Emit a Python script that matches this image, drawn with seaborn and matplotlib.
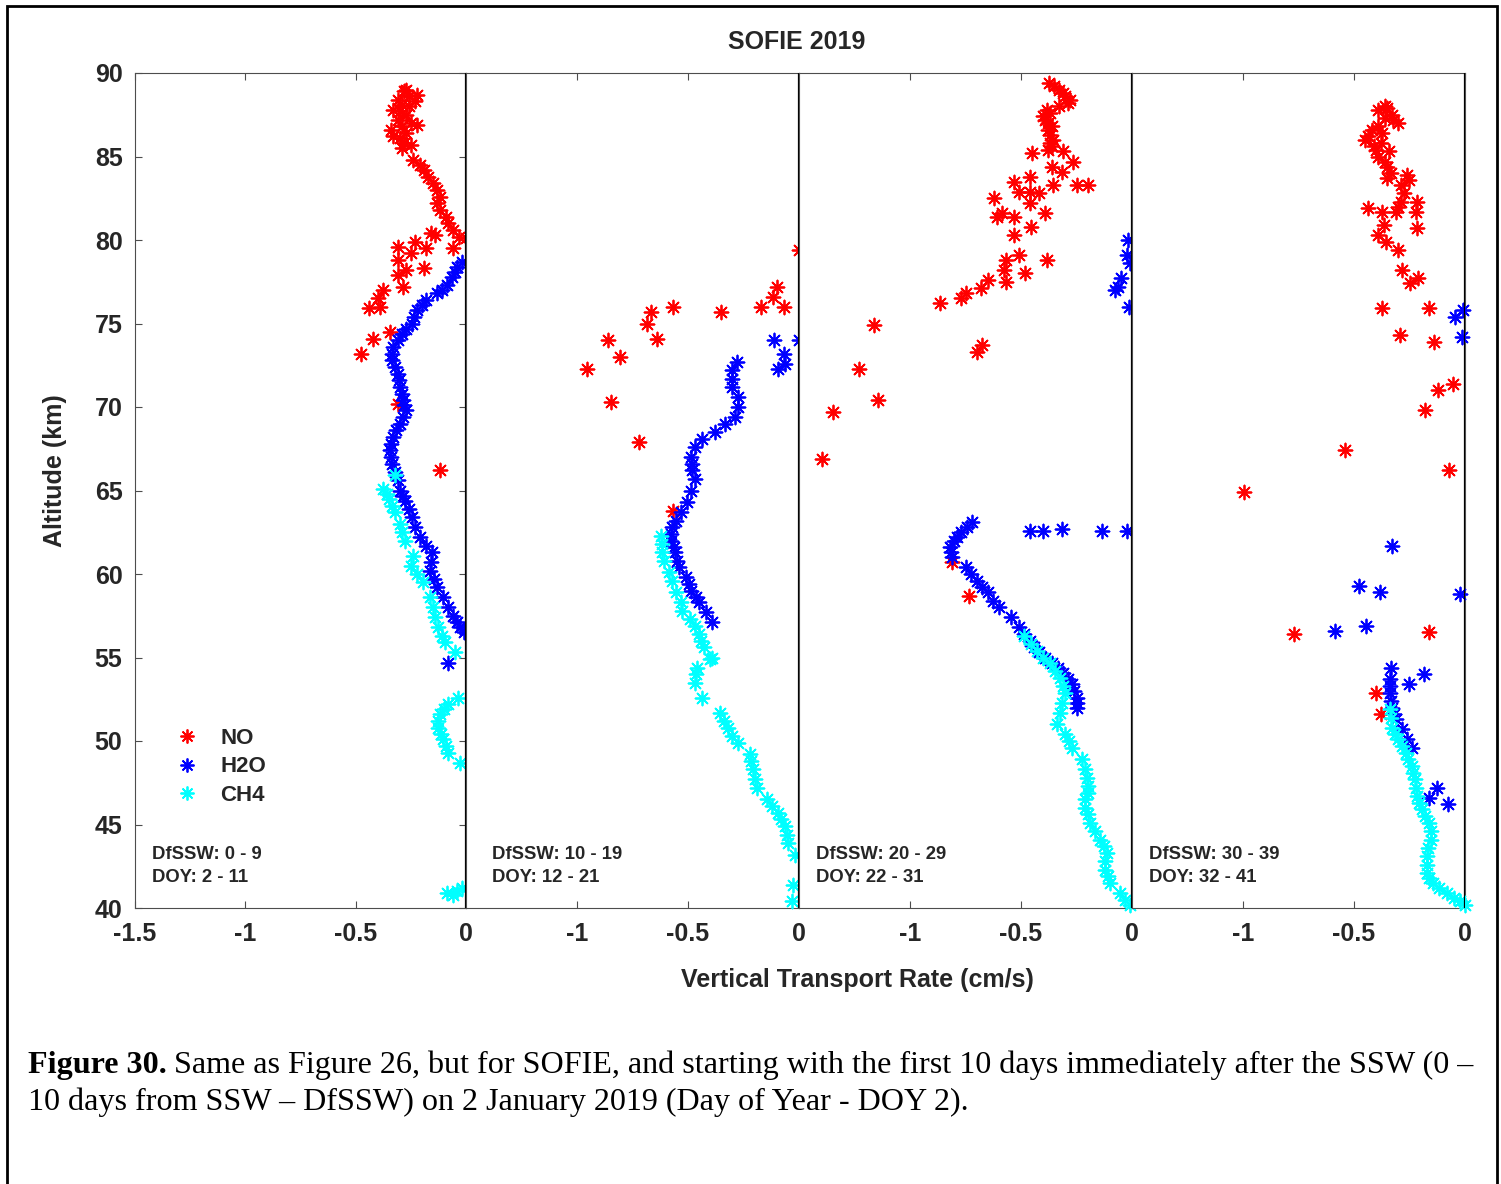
import numpy as np
import pandas as pd
import matplotlib
matplotlib.use("Agg")
import matplotlib.pyplot as plt
import seaborn as sns
from matplotlib.lines import Line2D
from matplotlib.patches import Rectangle

sns.set_style("white")
plt.rcParams['font.family'] = ['Liberation Sans', 'DejaVu Sans']

# ---------------- data ----------------
species = ["NO", "H2O", "CH4"]
species_colors = {"NO": "#ff0000", "H2O": "#0000ff", "CH4": "#00ffff"}
dfssw_labels = ["DfSSW: 0 - 9", "DfSSW: 10 - 19", "DfSSW: 20 - 29", "DfSSW: 30 - 39"]
doy_labels = ["DOY: 2 - 11", "DOY: 12 - 21", "DOY: 22 - 31", "DOY: 32 - 41"]
x_ticks_first = [-1.5, -1, -0.5, 0]
x_ticks_other = [-1, -0.5, 0]
y_ticks = [40, 45, 50, 55, 60, 65, 70, 75, 80, 85, 90]

# Panel 1 (DfSSW 0-9)
p1_no_alt = [89.0, 88.9, 88.7, 88.6, 88.4, 88.3, 88.1, 88.0, 87.8, 87.7, 87.5, 87.2, 87.0, 86.9, 86.8,
             86.6, 86.4, 86.2, 86.1, 85.8, 85.7, 85.5,
             84.8, 84.5, 84.2, 83.8, 83.4, 83.0, 82.6, 82.2, 81.8, 81.4, 81.0, 80.6, 80.2, 80.1, 79.5,
             80.4, 80.3, 79.6, 79.9, 79.2, 79.5, 78.8, 78.2, 78.3, 77.9, 77.2, 77.0, 76.5, 75.9, 76.0,
             74.5, 74.1, 73.2, 70.2, 66.2]
p1_no_rate = [-0.27, -0.28, -0.22, -0.26, -0.31, -0.23, -0.29, -0.26, -0.33, -0.30, -0.27, -0.31, -0.25, -0.22, -0.29,
              -0.34, -0.27, -0.33, -0.30, -0.28, -0.25, -0.29,
              -0.24, -0.21, -0.19, -0.17, -0.15, -0.13, -0.12, -0.13, -0.12, -0.09, -0.08, -0.06, -0.03, 0.0, -0.06,
              -0.16, -0.14, -0.31, -0.23, -0.25, -0.18, -0.31, -0.27, -0.19, -0.31, -0.285, -0.376, -0.40, -0.44, -0.39,
              -0.344, -0.42, -0.476, -0.31, -0.118]
p1_h2o_alt = [78.7, 78.4, 78.1, 77.8, 77.3, 77.0, 76.8, 76.4, 76.1, 75.8, 75.4, 75.0, 74.7, 74.4, 74.0, 73.6,
              73.2, 72.8, 72.4, 72.0, 71.6, 71.2, 70.8, 70.4, 70.1, 69.8, 69.4, 69.0, 68.6, 68.2, 67.8, 67.4,
              67.0, 66.6, 66.1, 65.6, 65.0, 64.7, 64.4, 63.9, 63.4, 62.8, 62.2, 61.7, 61.3, 60.7, 60.2, 59.7,
              59.2, 58.6, 58.0, 57.5, 57.1, 56.8, 56.5, 54.7]
p1_h2o_rate = [-0.02, -0.04, -0.05, -0.064, -0.086, -0.11, -0.13, -0.18, -0.20, -0.22, -0.235, -0.245, -0.27, -0.29,
               -0.31, -0.33, -0.335, -0.335, -0.32, -0.31, -0.305, -0.30, -0.29, -0.285, -0.28, -0.27, -0.285, -0.30,
               -0.315, -0.33, -0.34, -0.344, -0.34, -0.335, -0.32, -0.31, -0.30, -0.285, -0.276, -0.26, -0.245,
               -0.23, -0.21, -0.18, -0.155, -0.16, -0.163, -0.145, -0.13, -0.105, -0.08, -0.06, -0.04, -0.025,
               -0.01, -0.08]
p1_ch4_alt = [65.9, 65.1, 64.8, 64.5, 64.1, 63.7, 63.0, 62.5, 62.0, 61.1, 60.5, 60.0, 59.5, 58.6, 58.0, 57.4,
              56.8, 56.3, 55.9, 55.3, 52.6, 52.2, 51.9, 51.6, 51.2, 50.8, 50.4, 50.1, 49.7, 49.3, 48.7,
              40.9, 40.8, 41.0, 41.2]
p1_ch4_rate = [-0.32, -0.376, -0.36, -0.35, -0.335, -0.32, -0.30, -0.29, -0.276, -0.24, -0.25, -0.22, -0.195,
               -0.163, -0.15, -0.14, -0.125, -0.11, -0.095, -0.05, -0.036, -0.08, -0.10, -0.118, -0.125, -0.127,
               -0.115, -0.104, -0.09, -0.08, -0.027, -0.086, -0.06, -0.04, -0.018]

# Panel 2 (DfSSW 10-19)
p2_no_alt = [79.4, 77.2, 76.6, 76.0, 76.0, 75.7, 76.0, 75.7, 75.0, 74.1, 74.0, 73.0, 72.3, 70.3, 67.9, 63.8]
p2_no_rate = [0.0, -0.10, -0.118, -0.17, -0.068, -0.35, -0.566, -0.666, -0.684, -0.64, -0.86, -0.806, -0.956,
              -0.847, -0.72, -0.566]
p2_h2o_alt = [74.0, 74.0, 73.2, 72.6, 72.3,
              72.7, 72.2, 71.7, 71.2, 70.6, 70.0, 69.4, 69.0, 68.5, 68.1, 67.6, 67.0, 66.6, 66.2, 65.7, 65.0,
              64.3, 63.7, 63.2, 62.8, 62.4, 62.0, 61.6, 61.3, 60.8, 60.4, 59.8, 59.4, 59.0, 58.6, 58.3, 57.7, 57.1]
p2_h2o_rate = [-0.113, 0.0, -0.068, -0.063, -0.095,
               -0.28, -0.30, -0.30, -0.30, -0.276, -0.276, -0.29, -0.335, -0.38, -0.435, -0.47, -0.485, -0.48,
               -0.48, -0.47, -0.485, -0.503, -0.53, -0.555, -0.57, -0.575, -0.575, -0.565, -0.56, -0.55, -0.54,
               -0.507, -0.495, -0.485, -0.465, -0.45, -0.417, -0.394]
p2_ch4_alt = [62.3, 61.8, 61.3, 60.8, 60.1, 59.6, 58.9, 58.3, 57.8, 57.3, 56.9, 56.4, 56.0, 55.6, 55.0, 54.9,
              54.4, 54.0, 53.5, 52.6, 51.7, 51.2, 50.8, 50.3, 49.9, 49.2, 48.8, 48.3, 47.7, 47.2, 46.5, 46.1,
              45.7, 45.3, 44.9, 44.4, 43.9, 43.2, 41.4, 40.4]
p2_ch4_rate = [-0.62, -0.618, -0.616, -0.61, -0.585, -0.57, -0.553, -0.53, -0.525, -0.49, -0.47, -0.45, -0.44,
               -0.426, -0.394, -0.403, -0.46, -0.465, -0.47, -0.435, -0.358, -0.34, -0.32, -0.30, -0.276, -0.222,
               -0.215, -0.208, -0.20, -0.19, -0.145, -0.12, -0.095, -0.08, -0.063, -0.055, -0.05, -0.018, -0.027,
               -0.03]

# Panel 3 (DfSSW 20-29)
p3_no_alt = [89.4, 89.2, 89.0, 88.8, 88.6, 88.4, 88.2, 88.0, 87.8, 87.6, 87.4, 87.2, 87.0, 86.8, 86.6, 86.3,
             86.0, 85.8, 85.6, 85.4, 85.3, 85.2, 84.7, 84.4, 84.1, 83.5, 83.8, 83.3,
             83.3, 83.3, 82.9, 82.9, 82.8, 82.2, 82.5, 81.4, 81.6, 81.4, 81.6, 80.8, 80.3, 79.1, 78.8, 78.8,
             78.2, 78.0, 77.5, 77.6, 77.1, 76.8, 76.5, 76.2, 73.7, 73.3, 74.9, 72.3, 70.4, 69.7, 66.9, 60.7, 58.7]
p3_no_rate = [-0.372, -0.35, -0.33, -0.31, -0.30, -0.28, -0.29, -0.33, -0.385, -0.37, -0.40, -0.394, -0.38,
              -0.36, -0.38, -0.37, -0.358, -0.37, -0.36, -0.38, -0.31, -0.45, -0.267, -0.362, -0.317,
              -0.53, -0.46, -0.358, -0.25, -0.20, -0.507, -0.46, -0.417, -0.46, -0.62, -0.61, -0.584, -0.53,
              -0.394, -0.453, -0.53, -0.507, -0.566, -0.385, -0.575, -0.48, -0.566, -0.65, -0.68, -0.75, -0.77,
              -0.865, -0.675, -0.70, -1.16, -1.228, -1.146, -1.346, -1.396, -0.81, -0.734]
p3_h2o_alt = [80.0, 79.1, 78.6, 77.7, 77.2, 77.0, 76.0,
              62.6, 62.6, 62.7, 62.6, 62.6,
              63.1, 62.8, 62.5, 62.2, 62.0, 61.6, 61.3, 61.0, 60.4, 60.0, 59.6, 59.2, 58.9, 58.4, 58.0, 57.4,
              56.8, 56.4, 56.0, 55.6, 55.3, 55.0, 54.7, 54.4, 54.1, 53.7, 53.4, 53.0, 52.6, 52.3, 52.0]
p3_h2o_rate = [-0.018, -0.023, -0.01, -0.05, -0.063, -0.077, -0.014,
               -0.458, -0.40, -0.317, -0.136, -0.023,
               -0.72, -0.745, -0.77, -0.79, -0.80, -0.82, -0.815, -0.81, -0.75, -0.725, -0.70, -0.675, -0.65,
               -0.625, -0.60, -0.544, -0.507, -0.485, -0.46, -0.44, -0.417, -0.39, -0.362, -0.335, -0.31, -0.29,
               -0.272, -0.26, -0.25, -0.25, -0.25]
p3_ch4_alt = [56.3, 55.8, 55.4, 55.0, 54.7, 54.2, 53.8, 53.3, 52.9, 52.3, 51.7, 51.0, 50.4, 50.0, 49.6, 48.9,
              48.3, 47.8, 47.3, 46.9, 46.5, 46.0, 45.6, 45.1, 44.6, 44.1, 43.7, 43.3, 42.8, 42.3, 41.9, 41.5,
              40.9, 40.5, 40.2]
p3_ch4_rate = [-0.485, -0.455, -0.43, -0.40, -0.37, -0.345, -0.326, -0.31, -0.30, -0.315, -0.326, -0.34, -0.30,
               -0.285, -0.27, -0.227, -0.21, -0.204, -0.20, -0.20, -0.21, -0.213, -0.20, -0.19, -0.165, -0.145,
               -0.125, -0.113, -0.12, -0.122, -0.11, -0.10, -0.054, -0.03, -0.01]

# Panel 4 (DfSSW 30-39)
p4_no_alt = [88.0, 87.9, 87.8, 87.5, 87.3, 87.2, 87.0, 86.8, 86.6, 86.2, 86.0, 86.4, 85.8, 85.6, 85.4, 85.0,
             85.3, 84.7, 84.4, 84.0, 83.7, 83.9, 83.6, 83.3,
             82.8, 82.3, 82.3, 82.0, 81.7, 81.9, 81.7, 81.7, 80.7, 80.9, 80.3, 79.9, 79.4, 78.2, 77.4, 77.7,
             75.9, 75.9, 74.3, 73.9, 71.4, 71.0, 69.8, 67.4, 66.2, 64.9, 56.4, 56.5, 52.9, 51.6]
p4_no_rate = [-0.362, -0.35, -0.39, -0.33, -0.36, -0.326, -0.30, -0.39, -0.42, -0.435, -0.45, -0.376, -0.38,
              -0.41, -0.40, -0.39, -0.344, -0.36, -0.353, -0.335, -0.353,
              -0.263, -0.254, -0.29, -0.276, -0.29, -0.217, -0.30, -0.222, -0.435, -0.376, -0.313, -0.217, -0.367,
              -0.39, -0.358, -0.30, -0.285, -0.25, -0.21, -0.372, -0.163, -0.295, -0.14, -0.054, -0.122, -0.18,
              -0.54, -0.072, -0.997, -0.77, -0.163, -0.40, -0.38]
p4_h2o_alt = [75.8, 75.4, 74.2, 61.7, 59.3, 58.9, 58.8, 56.6, 56.9, 54.4, 54.0, 53.4, 47.2, 46.6, 46.2,
              53.7, 53.3, 52.9, 52.4, 52.0, 51.6, 51.3, 50.7, 50.1, 49.6]
p4_h2o_rate = [-0.01, -0.045, -0.014, -0.33, -0.476, -0.385, -0.023, -0.584, -0.444, -0.335, -0.186, -0.253,
               -0.127, -0.163, -0.077,
               -0.34, -0.34, -0.34, -0.335, -0.33, -0.32, -0.31, -0.285, -0.263, -0.24]
p4_ch4_alt = [51.9, 51.4, 50.8, 50.4, 50.1, 49.7, 49.3, 48.9, 48.5, 48.1, 47.7, 47.2, 46.7, 46.3, 45.9, 45.5,
              45.1, 44.6, 44.1, 43.6, 43.1, 42.6, 42.1, 41.8, 41.5, 41.2, 40.9, 40.6, 40.4, 40.2]
p4_ch4_rate = [-0.34, -0.335, -0.33, -0.315, -0.30, -0.285, -0.267, -0.255, -0.24, -0.232, -0.227, -0.222,
               -0.217, -0.205, -0.195, -0.178, -0.16, -0.155, -0.154, -0.165, -0.172, -0.172, -0.172, -0.16,
               -0.145, -0.115, -0.082, -0.05, -0.023, 0.0]

panels = [
    {"NO": (p1_no_rate, p1_no_alt), "H2O": (p1_h2o_rate, p1_h2o_alt), "CH4": (p1_ch4_rate, p1_ch4_alt)},
    {"NO": (p2_no_rate, p2_no_alt), "H2O": (p2_h2o_rate, p2_h2o_alt), "CH4": (p2_ch4_rate, p2_ch4_alt)},
    {"NO": (p3_no_rate, p3_no_alt), "H2O": (p3_h2o_rate, p3_h2o_alt), "CH4": (p3_ch4_rate, p3_ch4_alt)},
    {"NO": (p4_no_rate, p4_no_alt), "H2O": (p4_h2o_rate, p4_h2o_alt), "CH4": (p4_ch4_rate, p4_ch4_alt)},
]

rows = []
for pi, pdata in enumerate(panels):
    for sp in species:
        xs, ys = pdata[sp]
        for xv, yv in zip(xs, ys):
            rows.append({"panel": pi, "species": sp, "rate": xv, "alt": yv})
df = pd.DataFrame(rows)

# ---------------- layout ----------------
W, H = 1501, 1184
fig = plt.figure(figsize=(W / 100, H / 100), dpi=100)
edges = [135, 466, 799, 1132, 1465]
top_px, bot_px = 73, 908

ASTER = (8, 2, 0)
spine_col = "#4d4d4d"
tick_font = dict(fontsize=18, fontweight="bold")

axes = []
for i in range(4):
    l = edges[i] / W
    w = (edges[i + 1] - edges[i]) / W
    b = 1 - bot_px / H
    h = (bot_px - top_px) / H
    ax = fig.add_axes([l, b, w, h])
    ax.set_facecolor("white")
    sub = df[df.panel == i]
    for sp in species:
        s = sub[sub.species == sp]
        sns.scatterplot(data=s, x="rate", y="alt", color=species_colors[sp], marker=ASTER,
                        s=100, linewidth=1.3, ax=ax, legend=False, clip_on=False, zorder=3)
    ax.axvline(0, color="black", lw=1.6, zorder=4)
    ax.set_xlim(-1.5, 0)
    ax.set_ylim(40, 90)
    ax.set_xlabel("")
    ax.set_ylabel("")
    for sp_name, spine in ax.spines.items():
        spine.set_color(spine_col)
        spine.set_linewidth(0.8)
    ticks = x_ticks_first if i == 0 else x_ticks_other
    ax.set_xticks(ticks)
    ax.set_xticklabels([("%g" % t) for t in ticks], **tick_font)
    ax.tick_params(axis="x", direction="in", length=5, width=0.8, color=spine_col,
                   top=True, bottom=True, pad=10)
    if i == 0:
        ax.set_yticks(y_ticks)
        ax.set_yticklabels([str(t) for t in y_ticks], **tick_font)
        ax.tick_params(axis="y", direction="in", length=5, width=0.8, color=spine_col,
                       left=True, right=True, pad=9)
    else:
        ax.set_yticks([])
    xoff = -1.5 + (26 if i == 1 else 17) / 220.7
    ax.text(xoff, 43.2, dfssw_labels[i], fontsize=13.3, fontweight="bold", va="center", ha="left")
    ax.text(xoff, 41.85, doy_labels[i], fontsize=13.3, fontweight="bold", va="center", ha="left")
    axes.append(ax)

handles = [Line2D([], [], marker=ASTER, linestyle="none", color=species_colors[sp],
                  markersize=10, markeredgewidth=1.3) for sp in species]
leg = axes[0].legend(handles, species, loc="upper left", bbox_to_anchor=(0.063, 0.2395),
                     frameon=False, handlelength=1.0, handletextpad=1.0, labelspacing=0.33,
                     prop=dict(weight="bold", size=16))

fig.text(797 / W, 1 - 42 / H, "SOFIE 2019", ha="center", va="center", fontsize=18, fontweight="bold")
fig.text(857 / W, 1 - 980 / H, "Vertical Transport Rate (cm/s)", ha="center", va="center",
         fontsize=18, fontweight="bold")
fig.text(55 / W, 1 - 471 / H, "Altitude (km)", ha="center", va="center", rotation=90,
         fontsize=18, fontweight="bold")

# frame around the figure
fig.patches.append(Rectangle((7 / W, -0.01), (1497 - 7) / W, 1 - 6 / H + 0.01, transform=fig.transFigure,
                             fill=False, edgecolor="black", linewidth=2))

# caption
serif = ["Liberation Serif", "DejaVu Serif"]
cap_size = 23.1
t1 = fig.text(28 / W, 1 - 1073 / H, "Figure 30.", family=serif, fontweight="bold", fontsize=cap_size,
              va="baseline", ha="left", color="black")
fig.canvas.draw()
bb = t1.get_window_extent(renderer=fig.canvas.get_renderer())
fig.text(bb.x1 / W + 7 / W, 1 - 1073 / H,
         "Same as Figure 26, but for SOFIE, and starting with the first 10 days immediately after the SSW (0 \u2013",
         family=serif, fontsize=cap_size, va="baseline", ha="left", color="black")
fig.text(28 / W, 1 - 1110 / H,
         "10 days from SSW \u2013 DfSSW) on 2 January 2019 (Day of Year - DOY 2).",
         family=serif, fontsize=cap_size, va="baseline", ha="left", color="black")

fig.savefig("out.png", dpi=100, facecolor="white")
